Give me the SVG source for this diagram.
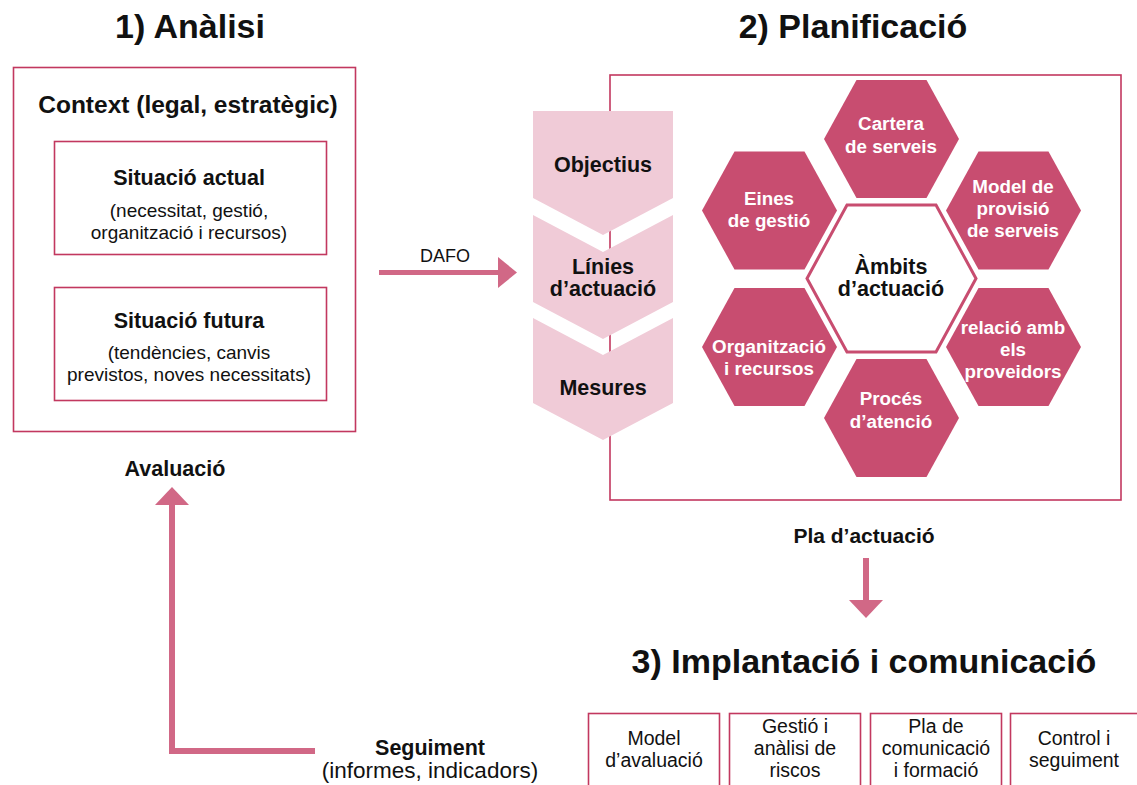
<svg xmlns="http://www.w3.org/2000/svg" xmlns:xlink="http://www.w3.org/1999/xlink" width="1137" height="785" viewBox="0 0 1137 785">
<style>
text{font-family:"Liberation Sans",Arial,sans-serif;fill:#111;text-anchor:middle}
.title{font-weight:bold;font-size:34px}
.med{font-weight:bold}
.reg{font-weight:normal}
.box{fill:#fff;stroke:#c2385f;stroke-width:1.6}
.hex{fill:#c84d70}
.hext{fill:#fff;font-weight:bold;font-size:18.8px}
.chev{fill:#f0cbd7}
.conn{stroke:#d16886;fill:none}
.head{fill:#d16886}
</style>
<defs>
<polygon id="hexshape" points="-67.5,0 -35,-59 35,-59 67.5,0 35,59 -35,59"/>
</defs>
<rect width="1137" height="785" fill="#fff"/>

<g id="titles">
<text class="title" x="190" y="38" font-size="33.5">1) Anàlisi</text>
<text class="title" x="853" y="38">2) Planificació</text>
<text class="title" x="864" y="673" font-size="34.5">3) Implantació i comunicació</text>
</g>

<g id="analisi">
<rect class="box" x="13.5" y="67.5" width="342" height="364"/>
<text class="med" x="188" y="113" font-size="24.5">Context (legal, estratègic)</text>
</g>
<g id="situacio-actual">
<rect class="box" x="54.5" y="141.5" width="272" height="113"/>
<text class="med" x="189" y="185" font-size="21.5">Situació actual</text>
<text class="reg" x="189" y="217" font-size="19">(necessitat, gestió,</text>
<text class="reg" x="189" y="239" font-size="19">organització i recursos)</text>
</g>
<g id="situacio-futura">
<rect class="box" x="54.5" y="287.5" width="272" height="113"/>
<text class="med" x="189" y="328" font-size="21.5">Situació futura</text>
<text class="reg" x="189" y="359" font-size="19">(tendències, canvis</text>
<text class="reg" x="189" y="381" font-size="19">previstos, noves necessitats)</text>
</g>

<g id="planificacio">
<rect class="box" x="610" y="75" width="511" height="425"/>
</g>

<g id="objectius">
<path class="chev" d="M533,111 H673 V198 L603,235 L533,198 Z"/>
<text class="med" x="603" y="172" font-size="21.5">Objectius</text>
</g>
<g id="linies">
<path class="chev" d="M533,215 L603,252 L673,215 V302 L603,339 L533,302 Z"/>
<text class="med" x="603" y="274" font-size="21.5">Línies</text>
<text class="med" x="603" y="296" font-size="21.5">d’actuació</text>
</g>
<g id="mesures">
<path class="chev" d="M533,318 L603,355 L673,318 V403 L603,440 L533,403 Z"/>
<text class="med" x="603" y="395" font-size="21.5">Mesures</text>
</g>

<g id="ambits">
<polygon points="807,278.5 847,205 936,205 976,278.5 936,352 847,352" fill="#fff" stroke="#c84d70" stroke-width="3"/>
<text class="med" x="891" y="274" font-size="21.5">Àmbits</text>
<text class="med" x="891" y="296" font-size="21.5">d’actuació</text>
</g>
<g id="cartera">
<use href="#hexshape" class="hex" x="891.5" y="139"/>
<text class="hext" x="891" y="130">Cartera</text>
<text class="hext" x="891" y="153">de serveis</text>
</g>
<g id="eines">
<use href="#hexshape" class="hex" x="769.5" y="210.5"/>
<text class="hext" x="769" y="205">Eines</text>
<text class="hext" x="769" y="227">de gestió</text>
</g>
<g id="model-provisio">
<use href="#hexshape" class="hex" x="1013.5" y="210.5"/>
<text class="hext" x="1013" y="193">Model de</text>
<text class="hext" x="1013" y="215">provisió</text>
<text class="hext" x="1013" y="237">de serveis</text>
</g>
<g id="organitzacio">
<use href="#hexshape" class="hex" x="769.5" y="347"/>
<text class="hext" x="769" y="353">Organització</text>
<text class="hext" x="769" y="375">i recursos</text>
</g>
<g id="relacio">
<use href="#hexshape" class="hex" x="1013.5" y="347"/>
<text class="hext" x="1013" y="334">relació amb</text>
<text class="hext" x="1013" y="356">els</text>
<text class="hext" x="1013" y="378">proveidors</text>
</g>
<g id="proces">
<use href="#hexshape" class="hex" x="891.5" y="418"/>
<text class="hext" x="891" y="405">Procés</text>
<text class="hext" x="891" y="428">d’atenció</text>
</g>

<g id="connectors">
<line class="conn" x1="379" y1="272.5" x2="500" y2="272.5" stroke-width="5"/>
<polygon class="head" points="498,257 517,272.5 498,288"/>
<line class="conn" x1="866" y1="558" x2="866" y2="601" stroke-width="6"/>
<polygon class="head" points="849,600 883,600 866,618"/>
<polyline class="conn" points="315,751 172,751 172,504" stroke-width="6"/>
<polygon class="head" points="155,505 189,505 172,487"/>
</g>

<g id="labels">
<text class="reg" x="445" y="262" font-size="18">DAFO</text>
<text class="med" x="864" y="543" font-size="21">Pla d’actuació</text>
<text class="med" x="175" y="476" font-size="21.5">Avaluació</text>
<text class="med" x="430" y="755" font-size="21.5">Seguiment</text>
<text class="reg" x="430" y="778" font-size="22.5">(informes, indicadors)</text>
</g>

<g id="model-avaluacio">
<rect class="box" x="588.5" y="713.5" width="131" height="90"/>
<text class="reg" x="654" y="745" font-size="19.5">Model</text>
<text class="reg" x="654" y="767" font-size="19.5">d’avaluació</text>
</g>
<g id="gestio-riscos">
<rect class="box" x="729.5" y="713.5" width="131" height="90"/>
<text class="reg" x="795" y="733" font-size="19.5">Gestió i</text>
<text class="reg" x="795" y="755" font-size="19.5">anàlisi de</text>
<text class="reg" x="795" y="777" font-size="19.5">riscos</text>
</g>
<g id="pla-comunicacio">
<rect class="box" x="870.5" y="713.5" width="131" height="90"/>
<text class="reg" x="936" y="733" font-size="19.5">Pla de</text>
<text class="reg" x="936" y="755" font-size="19.5">comunicació</text>
<text class="reg" x="936" y="777" font-size="19.5">i formació</text>
</g>
<g id="control-seguiment">
<rect class="box" x="1010.5" y="713.5" width="140" height="90"/>
<text class="reg" x="1074" y="745" font-size="19.5">Control i</text>
<text class="reg" x="1074" y="767" font-size="19.5">seguiment</text>
</g>
</svg>
